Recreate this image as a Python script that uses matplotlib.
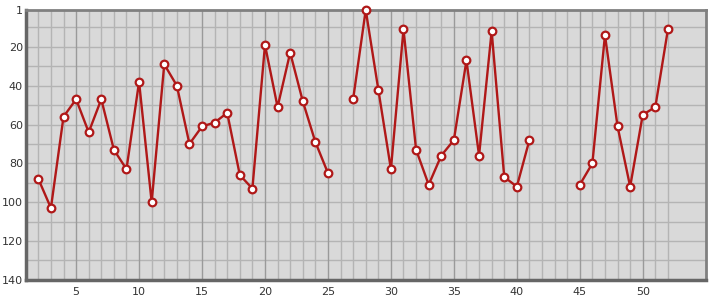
import numpy as np
import matplotlib
matplotlib.use("Agg")
import matplotlib.pyplot as plt

# rank per issue (None = no entry)
issues = list(range(2, 53))
ranks = [88, 103, 56, 47, 64, 47, 73, 83, 38, 100,
         29, 40, 70, 61, 59, 54, 86, 93, 19, 51,
         23, 48, 69, 85, None, 47, 1, 42, 83, 11,
         73, 91, 76, 68, 27, 76, 12, 87, 92, 68,
         None, None, None, 91, 80, 14, 61, 92, 55, 51,
         11]
y_ticks = [1, 20, 40, 60, 80, 100, 120, 140]
x_ticks = [5, 10, 15, 20, 25, 30, 35, 40, 45, 50]

vals = np.array([np.nan if r is None else r for r in ranks], dtype=float)

fig = plt.figure(figsize=(7.15, 3.0), dpi=100)
ax = fig.add_axes([0.036, 0.067, 0.951, 0.9])
ax.set_facecolor("#d9d9d9")

# grid: horizontal every 10, vertical at each issue, darker every 5
for yv in range(10, 140, 10):
    ax.axhline(yv, color="#b4b4b4", lw=1, zorder=1)
for xv in issues:
    c = "#9a9a9a" if xv % 5 == 0 else "#b4b4b4"
    ax.axvline(xv, color=c, lw=1, zorder=1)

ax.plot(issues, vals, color="#b01818", lw=1.7, marker="o", ms=5.5,
        mfc="white", mec="#b01818", mew=1.6, zorder=3, clip_on=False)

ax.set_xlim(1, 55)
ax.set_ylim(140, 1)
ax.set_yticks(y_ticks)
ax.set_xticks(x_ticks)
ax.tick_params(length=0, labelsize=8, colors="#333333")
ax.tick_params(axis="y", pad=2)
ax.tick_params(axis="x", pad=5)

for s in ["top", "right"]:
    ax.spines[s].set_color("#808080")
    ax.spines[s].set_linewidth(2)
for s in ["left", "bottom"]:
    ax.spines[s].set_color("#666666")
    ax.spines[s].set_linewidth(2.5)

fig.savefig("out.png", dpi=100)
